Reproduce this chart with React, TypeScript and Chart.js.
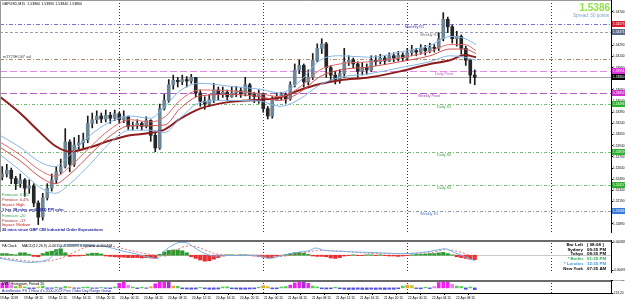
import React, { useEffect, useRef } from "react";
import { Chart, registerables } from "chart.js";
Chart.register(...registerables);

// ---------------- data ----------------
const symbolTitle = "GBPUSD,M15  1.53860 1.53890 1.53840 1.53860";
const bidPrice = 1.5386;
const bidText = "1.5386";
const spreadText = "Spread: 30 points";

const firstOpen = 1.5252;
const firstCandleHour = 0.375;
const candleStepHour = 0.75;
const candleCloses = [
  1.5256, 1.5261, 1.525, 1.5243, 1.5248, 1.5237, 1.524, 1.5217, 1.5198, 1.5224,
  1.5237, 1.5248, 1.5259, 1.5266, 1.5299, 1.5269, 1.5295, 1.5298, 1.5302, 1.5324,
  1.5329, 1.5334, 1.533, 1.5335, 1.5331, 1.5337, 1.5329, 1.5333, 1.532, 1.5321,
  1.5324, 1.532, 1.5328, 1.5308, 1.5291, 1.5344, 1.5355, 1.5376, 1.5382, 1.538,
  1.5383, 1.5381, 1.5386, 1.5365, 1.5354, 1.535, 1.5356, 1.5369, 1.5363, 1.5366,
  1.536, 1.5365, 1.5368, 1.5364, 1.5376, 1.5363, 1.536, 1.5364, 1.5344, 1.5334,
  1.5355, 1.536, 1.5363, 1.5357, 1.5376, 1.5396, 1.5402, 1.538, 1.5386, 1.5409,
  1.5425, 1.5431, 1.5399, 1.5389, 1.5383, 1.5391, 1.5407, 1.5409, 1.5404, 1.5394,
  1.5399, 1.5396, 1.5409, 1.5407, 1.5412, 1.5408, 1.5415, 1.5412, 1.5416, 1.5412,
  1.5419, 1.5422, 1.542, 1.5425, 1.5422, 1.5426, 1.5425, 1.5438, 1.5464, 1.5454,
  1.5438, 1.5441, 1.5425, 1.5409, 1.5389, 1.5386,
];
const candleHighs = [
  1.5266, 1.5269, 1.5264, 1.5253, 1.5256, 1.525, 1.5248, 1.5243, 1.522, 1.523,
  1.5243, 1.5256, 1.5266, 1.5276, 1.5317, 1.5302, 1.5305, 1.5308, 1.5311, 1.5334,
  1.5338, 1.5341, 1.5338, 1.5342, 1.5339, 1.5342, 1.5339, 1.5341, 1.5334, 1.5326,
  1.5329, 1.5326, 1.5333, 1.5329, 1.5311, 1.535, 1.5363, 1.5383, 1.5389, 1.5386,
  1.5389, 1.5387, 1.539, 1.5386, 1.5369, 1.536, 1.5363, 1.5378, 1.5373, 1.5373,
  1.5369, 1.5373, 1.5374, 1.5372, 1.5386, 1.5378, 1.5366, 1.5369, 1.5365, 1.5347,
  1.536, 1.5365, 1.5366, 1.5365, 1.538, 1.5404, 1.5409, 1.5404, 1.5396, 1.5418,
  1.5431, 1.5438, 1.5433, 1.5402, 1.5394, 1.5396, 1.5425, 1.5415, 1.5412, 1.5407,
  1.5406, 1.5404, 1.5415, 1.5415, 1.5417, 1.5415, 1.5419, 1.5419, 1.5421, 1.5419,
  1.5425, 1.5429, 1.5425, 1.543, 1.5429, 1.5432, 1.543, 1.5446, 1.5473, 1.5467,
  1.5456, 1.5448, 1.5443, 1.5428, 1.5409, 1.5396,
];
const candleLows = [
  1.5248, 1.5252, 1.5243, 1.5235, 1.5238, 1.5226, 1.523, 1.5212, 1.5188, 1.5194,
  1.5221, 1.5233, 1.5243, 1.5256, 1.5264, 1.5259, 1.5266, 1.5289, 1.5291, 1.5298,
  1.5318, 1.5324, 1.5325, 1.5326, 1.5324, 1.5328, 1.5324, 1.5325, 1.5316, 1.5315,
  1.5317, 1.5315, 1.5318, 1.53, 1.5286, 1.5289, 1.5342, 1.5352, 1.537, 1.5373,
  1.5376, 1.5373, 1.5378, 1.536, 1.5347, 1.5343, 1.5347, 1.5352, 1.5356, 1.5359,
  1.5355, 1.5359, 1.536, 1.5359, 1.5361, 1.5357, 1.5352, 1.5351, 1.5339, 1.533,
  1.5331, 1.5355, 1.5356, 1.5351, 1.5355, 1.5373, 1.5391, 1.5373, 1.5376, 1.5383,
  1.5407, 1.5418, 1.5386, 1.5381, 1.5377, 1.5378, 1.5386, 1.5402, 1.5399, 1.5386,
  1.5389, 1.539, 1.5394, 1.5402, 1.5404, 1.5403, 1.5407, 1.5407, 1.5408, 1.5408,
  1.5409, 1.5415, 1.5415, 1.5417, 1.5416, 1.5419, 1.542, 1.5422, 1.5435, 1.5446,
  1.5432, 1.5428, 1.5417, 1.5402, 1.5378, 1.5376,
];

const maHours = [0, 3.33, 6.67, 9.17, 11.67, 15, 18.33, 21.67, 25, 27.5, 30, 33.33, 38.33, 43.33, 46.67, 50, 53.33, 56.67, 61.67, 66.67, 71.67, 75, 77.5, 79.33];
const maSlow = [1.536, 1.5338, 1.5312, 1.5294, 1.5286, 1.5292, 1.5301, 1.5308, 1.5311, 1.5316, 1.533, 1.5344, 1.5353, 1.5356, 1.5359, 1.5369, 1.5377, 1.5382, 1.5386, 1.5394, 1.5404, 1.5409, 1.5416, 1.5413];
const maBlueUpper = [1.5308, 1.5292, 1.5272, 1.5266, 1.5282, 1.5308, 1.5326, 1.5334, 1.5331, 1.5347, 1.5368, 1.5378, 1.5374, 1.537, 1.5365, 1.5381, 1.5409, 1.5415, 1.5413, 1.542, 1.5429, 1.5441, 1.5438, 1.543];
const maRedUpper = [1.5299, 1.5282, 1.5261, 1.5253, 1.5266, 1.5292, 1.5316, 1.5329, 1.5326, 1.5333, 1.5355, 1.5369, 1.5368, 1.5364, 1.536, 1.5373, 1.5396, 1.5404, 1.5407, 1.5412, 1.5421, 1.543, 1.543, 1.5422];
const maRedLower = [1.5292, 1.5274, 1.5252, 1.5243, 1.5256, 1.5282, 1.5307, 1.5321, 1.5321, 1.5322, 1.5344, 1.5361, 1.5363, 1.536, 1.5355, 1.5366, 1.5387, 1.5396, 1.54, 1.5407, 1.5415, 1.5424, 1.5424, 1.5418];
const maBlueLower = [1.5282, 1.5261, 1.5238, 1.523, 1.5243, 1.5269, 1.5298, 1.5315, 1.5315, 1.5312, 1.5331, 1.5352, 1.5355, 1.5354, 1.5347, 1.5357, 1.5376, 1.5386, 1.5391, 1.5399, 1.5407, 1.5415, 1.5413, 1.5409];

const levelNames = ["Monthly R1", "Weekly R1", "m1T23H,567 val", "Daily Pivot", "Weekly Pivot", "Daily S1", "Daily S2", "Daily S3", "Weekly S1"];
const levelPrices = [1.54575, 1.54471, 1.54107, 1.53951, 1.53652, 1.53496, 1.52859, 1.52417, 1.52066];

const priceTicks = [1.5474, 1.5459, 1.5444, 1.5429, 1.5414, 1.5399, 1.5384, 1.5369, 1.5354, 1.5339, 1.5324, 1.5309, 1.5294, 1.5279, 1.5264, 1.5249, 1.5234, 1.5219, 1.5204, 1.5189];

const axisLabelHours = [0, 4, 8, 12, 16, 20, 24, 28, 32, 36, 40, 44, 48, 52, 56, 60, 64, 68, 72, 76];
const axisLabels = [
  "19 Apr 2018", "19 Apr 08:15", "19 Apr 12:15", "19 Apr 16:15", "19 Apr 20:15",
  "20 Apr 00:15", "20 Apr 04:15", "20 Apr 08:15", "20 Apr 12:15", "20 Apr 16:15",
  "20 Apr 20:15", "21 Apr 00:15", "21 Apr 04:15", "21 Apr 08:15", "21 Apr 12:15",
  "21 Apr 16:15", "21 Apr 20:15", "22 Apr 00:15", "22 Apr 04:15", "22 Apr 08:15",
];
const daySeparatorHours = [19.75, 43.75, 67.75, 91.75];
const hourMax = 101.83;

const newsLines = [
  "Forecast: 0.5%",
  "Previous: 0.4%",
  "Impact: High",
  "1 hrs 38 mins until USD PPI m/m",
  "Forecast: -20",
  "Previous: -17",
  "Impact: Medium",
  "26 mins since GBP CBI Industrial Order Expectations",
];
const newsKinds = ["f", "p", "i", "t", "f", "p", "i", "t"];

const macdTitle = "MACD(12,26,9) -0.00110 -0.000695 0.000000 -0.000408";
const macdHist = [
  0.0001, 0.0001, 0.00005, 0.000025, 0.00015, 0.00015, 0.00005, -0.000075, -0.0001, 0.0001,
  0.0002, 0.00025, 0.00035, 0.0004, 0.00015, -0.000075, -0.00005, -0.00005, -0.000025, 0.000075,
  0.000125, 0.000125, 0.000075, -0.00005, -0.000075, -0.0001, -0.000125, -0.000125, -0.00015, -0.00015,
  -0.00015, -0.000175, -0.00015, -0.000175, -0.0002, 0.00005, 0.0002, 0.0003, 0.000325, 0.000325,
  0.000275, 0.00015, -0.0001, -0.0002, -0.0003, -0.000375, -0.00035, -0.00025, -0.00015, -0.00005,
  0.000025, 0.000025, -0.000025, 0.000025, 0.000025, -0.000025, -0.00005, -0.000075, -0.000125, -0.000175,
  -0.00015, -0.00005, -0.000025, 0.00005, 0.0001, 0.00015, 0.000175, 0.000125, 0.00005, -0.00005,
  -0.000075, -0.000075, -0.0001, -0.000175, -0.0002, -0.00015, -0.00005, -0.000025, 0.000025, -0.000025,
  -0.000025, 0.000025, 0.000025, -0.000025, 0.000025, -0.000025, -0.00005, -0.00005, -0.000075, -0.00005,
  -0.000025, 0.000025, 0.00005, 0.00005, 0.000075, 0.0001, 0.0001, 0.00015, 0.000175, 0.0001,
  0.000025, -0.0001, -0.00015, -0.0002, -0.00025, -0.000275,
];
const macdMainHours = [0, 2.5, 5, 6.67, 8.33, 10, 10.83, 12.5, 15.83, 17.5, 20, 22.5, 25, 26.17, 27.5, 28.67, 30, 30.83, 32.5, 34.17, 35.83, 40, 43.33, 45, 46.67, 48.33, 50, 51.67, 52.5, 54.17, 56.67, 59.17, 63.33, 66.67, 70, 72.5, 74.17, 75.83, 77.5, 79.17];
const macdMain = [-0.0002, -0.00035, -0.00045, -0.0004, -0.0002, 0.00045, 0.00065, 0.00065, 0.0006, 0.00055, 0.0003, 0.0001, -0.00015, -0.0002, 0.0003, 0.0006, 0.0008, 0.0008, 0.00045, 0.0001, -0.00005, 0, -0.00005, -0.0002, -0.00005, 0.0001, 0.0002, 0.0003, 0.00045, 0.0003, 0.00025, 0.0002, 0.00015, 0.0001, 0.00015, 0.0003, 0.0004, 0.00015, -0.0001, -0.00035];
const macdSignalHours = [0, 6.67, 10, 12.5, 15, 18.33, 21.67, 25, 27.5, 29.17, 31.67, 33.33, 35.83, 39.17, 43.33, 45.83, 50, 53.33, 56.67, 63.33, 71.67, 74.17, 76.67, 79.17];
const macdSignal = [-0.00015, -0.0004, -0.0002, 0.0002, 0.00055, 0.00055, 0.0003, 0.00005, -0.00005, 0.0003, 0.0006, 0.00045, 0.0001, 0, 0, -0.0001, 0.0001, 0.0003, 0.00025, 0.0001, 0.00015, 0.00035, 0.0002, -0.00015];
const macdAxisTicks = [0.00082, -0.00093];

const nvuTitle = "NVU Histogram, Period 20";
const nvuNote = "AutoBreaks: FX 1 Hour 4's 2000-2023 Prev Order Day Range Group";
const nvuValues = [
  110, 140, 60, 30, 50, 20, -15, -15, 20, 40,
  -10, -10, 15, -10, 30, 20, -10, -10, 15, 20,
  -10, -10, 10, -10, -15, 20, 100, 130, 60, 20,
  -15, 15, -10, 25, 90, 130, 140, 160, 40, 35,
  -20, -25, -30, -25, 10, -20, -30, -30, -25, 20,
  25, -20, -25, -30, -30, -25, -20, 15, 50, 30,
  -20, -20, 20, 30, 60, 110, 130, 150, 100, 40,
  20, -20, -25, -20, 15, -20, -30, -35, -35, -30,
  -35, -35, -30, -35, -30, -35, -30, -30, -20, 40,
  60, 50, -15, -20, 15, -15, 30, 120, 170, 150,
  80, 40, 30, -30, 20, -40,
];
const nvuKinds = [
  "m", "m", "p", "g", "o", "g", "b", "b", "y", "g",
  "b", "b", "g", "b", "g", "o", "b", "b", "g", "g",
  "b", "b", "g", "b", "b", "g", "m", "m", "p", "g",
  "b", "g", "b", "o", "m", "m", "m", "v", "o", "g",
  "b", "b", "b", "b", "g", "b", "b", "b", "b", "g",
  "g", "b", "b", "b", "b", "b", "b", "g", "o", "y",
  "b", "b", "g", "g", "m", "m", "m", "v", "m", "g",
  "g", "b", "b", "b", "g", "b", "b", "b", "b", "b",
  "b", "b", "b", "b", "b", "b", "b", "b", "b", "g",
  "o", "y", "b", "b", "g", "b", "p", "m", "m", "m",
  "p", "g", "g", "b", "g", "b",
];
const nvuAxisTicks = [174.844, -113.2];

const clockNames = ["Bar Left", "Sydney", "Tokyo", "* Berlin", "* London", "New York"];
const clockValues = ["[ 08:08 ]", "09:35 PM", "08:35 PM", "01:35 PM", "12:35 PM", "07:35 AM"];

// ---------------- styles ----------------
const FONT = "'Liberation Sans', Arial, sans-serif";
const levelStyles: Record<string, any> = {
  "Monthly R1": { color: "#8a6ad6", dash: [4, 2, 1, 2], tag: "#d42030", text: "#3a3ab8", lx: 405, below: true },
  "Weekly R1": { color: "#9aa0b0", dash: [3, 2], tag: "#5a6a88", text: "#707070", lx: 420, below: true },
  "m1T23H,567 val": { color: "#a88a70", dash: [4, 2, 1, 2], tag: null, text: "#404040", lx: 3, below: false },
  "Daily Pivot": { color: "#e48ae4", dash: [7, 3], tag: "#e030e0", text: "#d050d0", lx: 435, below: true },
  "Weekly Pivot": { color: "#b060c0", dash: [7, 3], tag: "#d030d0", text: "#a040b0", lx: 418, below: true },
  "Daily S1": { color: "#6cc46c", dash: [3, 2, 1, 2], tag: "#30b030", text: "#40a040", lx: 437, below: true },
  "Daily S2": { color: "#6cc46c", dash: [3, 2, 1, 2], tag: "#30b030", text: "#40a040", lx: 437, below: true },
  "Daily S3": { color: "#6cc46c", dash: [3, 2, 1, 2], tag: "#30b030", text: "#40a040", lx: 437, below: true },
  "Weekly S1": { color: "#8898a8", dash: [3, 2, 1, 2], tag: "#3a7ad8", text: "#4a70c0", lx: 420, below: true },
};
const newsColors: Record<string, string> = { f: "#2e9a4e", p: "#a03030", i: "#c02020", t: "#1a1a9a" };
const nvuColors: Record<string, string> = { m: "#f020f0", p: "#f080f0", v: "#a030d0", g: "#50d050", o: "#f0a040", y: "#c8c820", b: "#5050e0" };
const clockColors = ["#000", "#000", "#000", "#2eaa50", "#3a9ae0", "#000"];

const PLOT_RIGHT = 611;

function fixY(width: number) {
  return (s: any) => {
    s.width = width;
    s.paddingTop = 0;
    s.paddingBottom = 0;
  };
}

function drawSeparators(chart: any) {
  const { ctx, chartArea: a, scales } = chart;
  const x = scales.x;
  ctx.save();
  ctx.strokeStyle = "#333";
  ctx.lineWidth = 1;
  ctx.setLineDash([1, 2]);
  daySeparatorHours.forEach((h) => {
    const px = Math.round(x.getPixelForValue(h)) + 0.5;
    ctx.beginPath();
    ctx.moveTo(px, a.top);
    ctx.lineTo(px, a.bottom);
    ctx.stroke();
  });
  ctx.restore();
}

function txt(ctx: any, s: string, x: number, y: number, size: number, color: string, align = "left", bold = false) {
  ctx.font = `${bold ? "bold " : ""}${size}px ${FONT}`;
  ctx.fillStyle = color;
  ctx.textAlign = align;
  ctx.textBaseline = "middle";
  ctx.fillText(s, x, y);
}

const mainPlugin = {
  id: "mainDecor",
  beforeDatasetsDraw(chart: any) {
    const { ctx, chartArea: a, scales } = chart;
    const y = scales.y;
    drawSeparators(chart);
    ctx.save();
    levelNames.forEach((n, i) => {
      const st = levelStyles[n];
      const py = Math.round(y.getPixelForValue(levelPrices[i])) + 0.5;
      ctx.strokeStyle = st.color;
      ctx.lineWidth = 1;
      ctx.setLineDash(st.dash);
      ctx.beginPath();
      ctx.moveTo(a.left, py);
      ctx.lineTo(a.right, py);
      ctx.stroke();
    });
    ctx.setLineDash([]);
    const by = Math.round(y.getPixelForValue(bidPrice)) + 0.5;
    ctx.strokeStyle = "#a8a8a8";
    ctx.beginPath();
    ctx.moveTo(a.left, by);
    ctx.lineTo(a.right, by);
    ctx.stroke();
    ctx.restore();
  },
  afterDatasetsDraw(chart: any) {
    const { ctx, scales } = chart;
    const y = scales.y;
    ctx.save();
    levelNames.forEach((n, i) => {
      const st = levelStyles[n];
      const py = y.getPixelForValue(levelPrices[i]);
      txt(ctx, n, st.lx, st.below ? py + 3 : py - 2, 3.8, st.text);
    });
    txt(ctx, symbolTitle, 2, 4, 3.6, "#000");
    newsLines.forEach((s, i) => {
      const yy = [195, 200, 204.5, 209.5, 216, 220.5, 225, 229.5][i];
      txt(ctx, s, 2, yy, 4, newsColors[newsKinds[i]], "left", i === 3 || i === 7);
    });
    txt(ctx, bidText, 610, 8, 10, "#8fe04a", "right", true);
    txt(ctx, spreadText, 609, 15.5, 4.6, "#7f9fc2", "right");
    ctx.restore();
  },
  afterDraw(chart: any) {
    const { ctx, chartArea: a, scales } = chart;
    const y = scales.y;
    ctx.save();
    ctx.strokeStyle = "#9a9a9a";
    ctx.lineWidth = 1;
    ctx.beginPath();
    ctx.moveTo(0.5, a.bottom);
    ctx.lineTo(0.5, 0.5);
    ctx.lineTo(a.right, 0.5);
    ctx.stroke();
    const tags: [number, string][] = [];
    levelNames.forEach((n, i) => {
      if (levelStyles[n].tag) tags.push([levelPrices[i], levelStyles[n].tag]);
    });
    tags.push([bidPrice, "#000"]);
    tags.forEach(([p, c]) => {
      const py = Math.round(y.getPixelForValue(p));
      ctx.fillStyle = c;
      ctx.fillRect(PLOT_RIGHT + 1, py - 3, 14, 6);
      txt(ctx, p.toFixed(5), PLOT_RIGHT + 2, py, 3.2, "#fff");
    });
    ctx.restore();
  },
};

const macdPlugin = {
  id: "macdDecor",
  beforeDatasetsDraw(chart: any) {
    const { ctx, chartArea: a, scales } = chart;
    drawSeparators(chart);
    ctx.save();
    ctx.strokeStyle = "#c8c8c8";
    ctx.lineWidth = 1;
    const zy = Math.round(scales.y.getPixelForValue(0)) + 0.5;
    ctx.beginPath();
    ctx.moveTo(a.left, zy);
    ctx.lineTo(a.right, zy);
    ctx.stroke();
    ctx.restore();
  },
  afterDraw(chart: any) {
    const { ctx } = chart;
    ctx.save();
    ctx.fillStyle = "#6a6a6a";
    ctx.fillRect(0, 0, PLOT_RIGHT, 2);
    txt(ctx, "PA Clock", 2, 6, 3.6, "#000");
    txt(ctx, macdTitle, 22, 6, 3.6, "#000");
    clockNames.forEach((n, i) => {
      const yy = 4.5 + i * 4.8;
      txt(ctx, n, 583, yy, 4.4, clockColors[i], "right", true);
      txt(ctx, clockValues[i], 587, yy, 4.4, clockColors[i], "left", true);
    });
    ctx.restore();
  },
};

const nvuPlugin = {
  id: "nvuDecor",
  beforeDatasetsDraw(chart: any) {
    drawSeparators(chart);
  },
  afterDraw(chart: any) {
    const { ctx } = chart;
    ctx.save();
    ctx.fillStyle = "#6a6a6a";
    ctx.fillRect(0, 0, PLOT_RIGHT, 2);
    txt(ctx, nvuTitle, 2, 3.5, 3.6, "#000");
    txt(ctx, nvuNote, 2, 11, 3.6, "#1a1a9a");
    ctx.restore();
  },
};

const candleHour = (i: number) => firstCandleHour + candleStepHour * i;
const candleOpens = candleCloses.map((_, i) => (i === 0 ? firstOpen : candleCloses[i - 1]));

function xScale(display: boolean) {
  return {
    type: "linear",
    min: 0,
    max: hourMax,
    offset: false,
    display,
    grid: { display, drawOnChartArea: false, drawTicks: true, tickLength: 2, color: "#000" },
    border: { display, color: "#000" },
    afterBuildTicks: (s: any) => {
      s.ticks = axisLabelHours.map((v) => ({ value: v }));
    },
    afterFit: (s: any) => {
      s.height = 8;
      s.paddingLeft = 0;
      s.paddingRight = 0;
    },
    ticks: {
      autoSkip: false,
      maxRotation: 0,
      align: "start",
      padding: 1,
      color: "#000",
      font: { size: 3.3, family: FONT },
      callback: (v: number) => {
        const k = axisLabelHours.indexOf(v);
        return k >= 0 ? axisLabels[k] : "";
      },
    },
  };
}

function yScale(min: number, max: number, ticks: number[], fmt: (v: number) => string) {
  return {
    type: "linear",
    position: "right",
    min,
    max,
    beginAtZero: false,
    grid: { display: true, drawOnChartArea: false, drawTicks: true, tickLength: 2, color: "#000" },
    border: { display: true, color: "#000" },
    afterBuildTicks: (s: any) => {
      s.ticks = ticks.map((v) => ({ value: v }));
    },
    afterFit: fixY(625 - PLOT_RIGHT),
    ticks: { padding: 0, color: "#000", font: { size: 3.2, family: FONT }, callback: (v: number) => fmt(v) },
  };
}

const baseOptions = {
  responsive: false,
  animation: false,
  events: [],
  layout: { padding: 0 },
  plugins: { legend: { display: false }, tooltip: { enabled: false }, title: { display: false } },
};

export default function App() {
  const r1 = useRef<HTMLCanvasElement>(null);
  const r2 = useRef<HTMLCanvasElement>(null);
  const r3 = useRef<HTMLCanvasElement>(null);

  useEffect(() => {
    const line = (hours: number[], vals: number[], color: string, width: number, dash: number[] = []) => ({
      type: "line",
      data: vals.map((v, i) => ({ x: hours[i], y: v })),
      borderColor: color,
      borderWidth: width,
      borderDash: dash,
      pointRadius: 0,
      cubicInterpolationMode: "monotone",
      order: 1,
    });

    const c1 = new Chart(r1.current!, {
      type: "bar",
      data: {
        datasets: [
          {
            data: candleCloses.map((c, i) => ({ x: candleHour(i), y: [candleLows[i], candleHighs[i]] })),
            backgroundColor: "#1a1a1a",
            barThickness: 1,
            grouped: false,
            order: 3,
          },
          {
            data: candleCloses.map((c, i) => ({ x: candleHour(i), y: [candleOpens[i], c] })),
            backgroundColor: candleCloses.map((c, i) => (c >= candleOpens[i] ? "#6d8696" : "#262626")),
            borderColor: "#1a1a1a",
            borderWidth: 0,
            barThickness: 3,
            minBarLength: 1,
            grouped: false,
            order: 2,
          },
          line(maHours, maBlueUpper, "#86b6e6", 1),
          line(maHours, maRedUpper, "#e06a6a", 1),
          line(maHours, maRedLower, "#d05050", 1),
          line(maHours, maBlueLower, "#86b6e6", 1),
          line(maHours, maSlow, "#8e1c1c", 2),
        ],
      },
      options: {
        ...baseOptions,
        scales: {
          x: xScale(false),
          y: yScale(1.5178, 1.549, priceTicks, (v) => v.toFixed(5)),
        },
      } as any,
      plugins: [mainPlugin],
    } as any);

    const c2 = new Chart(r2.current!, {
      type: "bar",
      data: {
        datasets: [
          {
            data: macdHist.map((v, i) => ({ x: candleHour(i), y: v })),
            backgroundColor: macdHist.map((v) => (v >= 0 ? "#2a9a2a" : "#e63030")),
            barThickness: 3.5,
            grouped: false,
            order: 2,
          },
          line(macdMainHours, macdMain, "#7aaee0", 1),
          line(macdSignalHours, macdSignal, "#e07070", 1, [2, 2]),
        ],
      },
      options: {
        ...baseOptions,
        scales: {
          x: xScale(false),
          y: yScale(-0.00105, 0.00095, macdAxisTicks, (v) => v.toFixed(6)),
        },
      } as any,
      plugins: [macdPlugin],
    } as any);

    const c3 = new Chart(r3.current!, {
      type: "bar",
      data: {
        datasets: [
          {
            data: nvuValues.map((v, i) => ({ x: candleHour(i), y: v })),
            backgroundColor: nvuKinds.map((k) => nvuColors[k]),
            barThickness: 3,
            grouped: false,
          },
        ],
      },
      options: {
        ...baseOptions,
        scales: {
          x: xScale(true),
          y: yScale(-113.2, 174.844, nvuAxisTicks, (v) => (v > 0 ? v.toFixed(3) : v.toFixed(2))),
        },
      } as any,
      plugins: [nvuPlugin],
    } as any);

    return () => {
      c1.destroy();
      c2.destroy();
      c3.destroy();
    };
  }, []);

  const cs: React.CSSProperties = { position: "absolute", left: 0, display: "block" };
  return (
    <div style={{ position: "absolute", left: 0, top: 0, width: 625, height: 301, background: "#fff", overflow: "hidden" }}>
      <canvas ref={r1} width={625} height={240} style={{ ...cs, top: 0 }} />
      <canvas ref={r2} width={625} height={40} style={{ ...cs, top: 240 }} />
      <canvas ref={r3} width={625} height={21} style={{ ...cs, top: 280 }} />
    </div>
  );
}
